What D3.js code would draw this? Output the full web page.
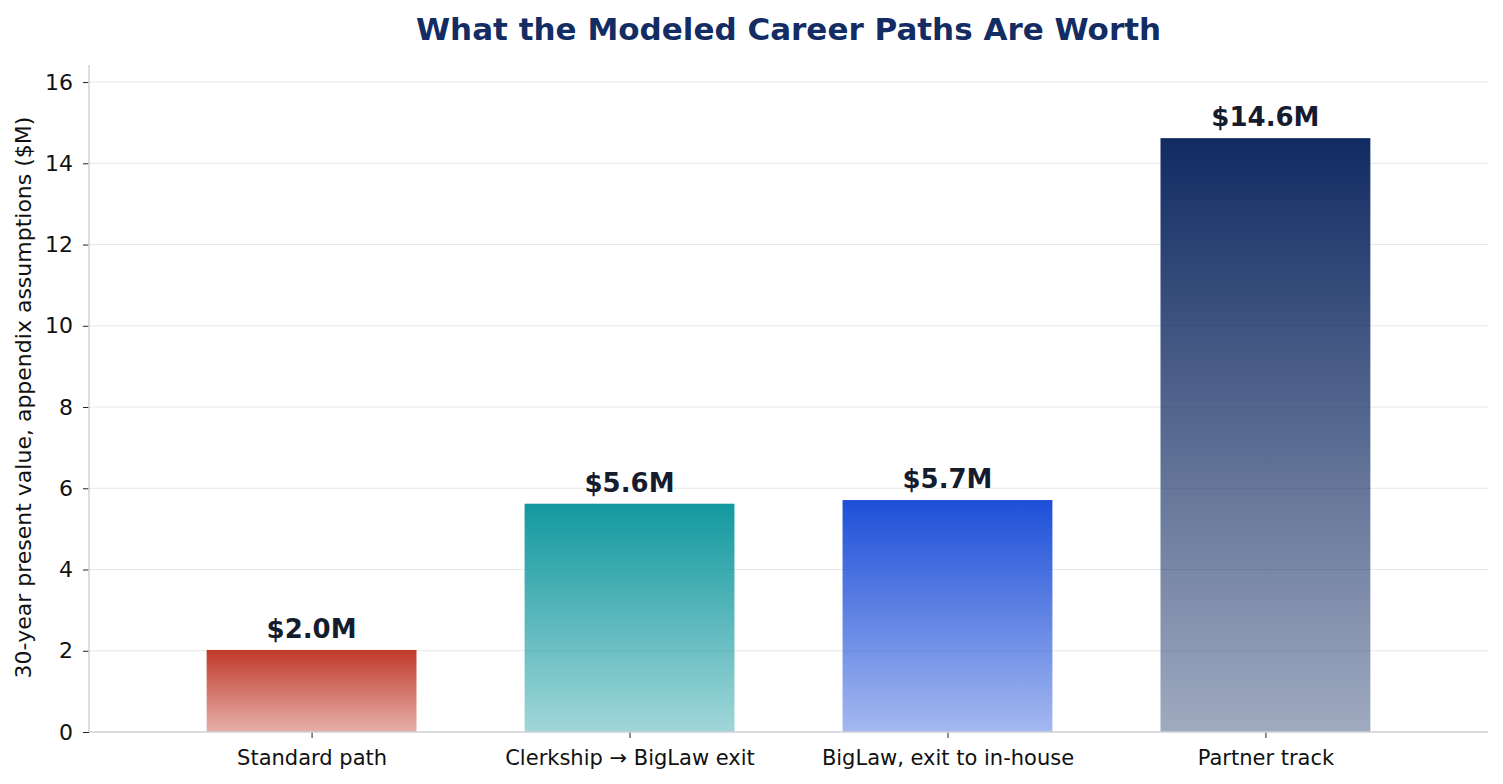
<!DOCTYPE html>
<html><head><meta charset="utf-8">
<script src="https://cdn.jsdelivr.net/npm/d3@7"></script>
<style>body{margin:0;background:#fff;} text{font-family:"DejaVu Sans",sans-serif;}</style>
</head><body>
<svg id="chart" width="1503" height="784"></svg>
<script>
const categories = ["Standard path", "Clerkship \u2192 BigLaw exit", "BigLaw, exit to in-house", "Partner track"];
const values = [2.02, 5.62, 5.71, 14.62];
const valueLabels = ["$2.0M", "$5.6M", "$5.7M", "$14.6M"];
const colors = ["#c0392b", "#12999f", "#1d4fd8", "#112b62"];
const yTicks = [0, 2, 4, 6, 8, 10, 12, 14, 16];
const title = "What the Modeled Career Paths Are Worth";
const yLabel = "30-year present value, appendix assumptions ($M)";

const svg = d3.select("#chart");
const L = 89, R = 1488, T = 65, B = 732;
const x = d3.scaleLinear().domain([-0.7, 3.7]).range([L, R]);
const y = d3.scaleLinear().domain([0, 16.42]).range([B, T]);
const bw = 0.66;

const defs = svg.append("defs");
colors.forEach((c, i) => {
  const g = defs.append("linearGradient").attr("id", "g" + i).attr("x1", 0).attr("y1", 0).attr("x2", 0).attr("y2", 1);
  g.append("stop").attr("offset", "0%").attr("stop-color", c).attr("stop-opacity", 1);
  g.append("stop").attr("offset", "100%").attr("stop-color", c).attr("stop-opacity", 0.4);
});

// grid
svg.append("g").selectAll("line").data(yTicks).join("line")
  .attr("x1", L).attr("x2", R).attr("y1", d => y(d)).attr("y2", d => y(d))
  .attr("stroke", "#e8e8e8").attr("stroke-width", 1);

// bars
svg.append("g").selectAll("rect").data(values).join("rect")
  .attr("x", (d, i) => x(i - bw / 2)).attr("width", (d, i) => x(i + bw / 2) - x(i - bw / 2))
  .attr("y", d => y(d)).attr("height", d => y(0) - y(d))
  .attr("fill", (d, i) => `url(#g${i})`);

// value labels
svg.append("g").selectAll("text").data(values).join("text")
  .attr("x", (d, i) => x(i)).attr("y", d => y(d) - 12)
  .attr("text-anchor", "middle").attr("font-size", 26).attr("font-weight", "bold")
  .attr("fill", "#141c2e").text((d, i) => valueLabels[i]);

// axes
const yAxis = d3.axisLeft(y).tickValues(yTicks).tickSize(6).tickPadding(10).tickFormat(d3.format("d"));
const gy = svg.append("g").attr("transform", `translate(${L},0)`).call(yAxis);
gy.select(".domain").remove();
gy.selectAll(".tick line").attr("stroke", "#222");
gy.selectAll(".tick text").attr("font-size", 22).attr("fill", "#111").style("font-family", "DejaVu Sans");

const xAxis = d3.axisBottom(x).tickValues([0, 1, 2, 3]).tickSize(6).tickPadding(12).tickFormat(i => categories[i]);
const gx = svg.append("g").attr("transform", `translate(0,${B})`).call(xAxis);
gx.select(".domain").remove();
gx.selectAll(".tick line").attr("stroke", "#222");
gx.selectAll(".tick text").attr("font-size", 21).attr("fill", "#111").style("font-family", "DejaVu Sans");

// spines
svg.append("line").attr("x1", L).attr("x2", L).attr("y1", T).attr("y2", B).attr("stroke", "#d0d3d8").attr("stroke-width", 1.5);
svg.append("line").attr("x1", L).attr("x2", R).attr("y1", B).attr("y2", B).attr("stroke", "#d0d3d8").attr("stroke-width", 1.5);

// title
svg.append("text").attr("x", (L + R) / 2).attr("y", 40).attr("text-anchor", "middle")
  .attr("font-size", 31).attr("font-weight", "bold").attr("fill", "#132c63").text(title);

// y label
svg.append("text").attr("transform", `translate(31,${(T + B) / 2 - 1}) rotate(-90)`).attr("text-anchor", "middle")
  .attr("font-size", 22).attr("fill", "#111").text(yLabel);
</script>
</body></html>
